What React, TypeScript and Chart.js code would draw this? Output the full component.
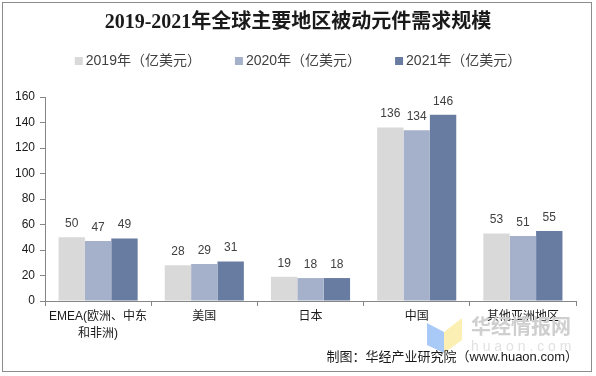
import React, { useEffect, useRef } from "react";
import { Chart, registerables } from "chart.js";

Chart.register(...registerables);

const chartTitle = "2019-2021年全球主要地区被动元件需求规模";
const footerText = "制图：华经产业研究院（www.huaon.com）";
const categories: (string | string[])[] = [["EMEA(欧洲、中东", "和非洲)"], "美国", "日本", "中国", "其他亚洲地区"];
const seriesNames = ["2019年（亿美元）", "2020年（亿美元）", "2021年（亿美元）"];
const values2019 = [50, 28, 19, 136, 53];
const values2020 = [47, 29, 18, 134, 51];
const values2021 = [49, 31, 18, 146, 55];
const yMin = 0;
const yMax = 160;
const yStep = 20;

const seriesColors = ["#D9D9D9", "#A5B1CA", "#687CA1"];
const SANS = '"Liberation Sans", "Noto Sans CJK SC", sans-serif';
const SERIF = '"Liberation Serif", "Noto Sans CJK SC", serif';

const decorPlugin = {
  id: "decor",
  afterDraw(chart: any) {
    const ctx: CanvasRenderingContext2D = chart.ctx;
    ctx.save();

    // outer border
    ctx.strokeStyle = "#8c8c8c";
    ctx.lineWidth = 1;
    ctx.strokeRect(2.5, 2.5, 589, 369);

    // title
    ctx.fillStyle = "#1a1a1a";
    ctx.font = `bold 20px ${SERIF}`;
    ctx.textAlign = "center";
    ctx.textBaseline = "middle";
    ctx.fillText(chartTitle, 298, 23);

    // legend
    ctx.font = `14px ${SANS}`;
    const box = 8;
    const gapBoxText = 3;
    const gapItems = 34;
    const widths = seriesNames.map((n) => box + gapBoxText + ctx.measureText(n).width);
    const total = widths.reduce((a, b) => a + b, 0) + gapItems * (seriesNames.length - 1);
    let x = 298 - total / 2;
    const ly = 61;
    seriesNames.forEach((n, i) => {
      ctx.fillStyle = seriesColors[i];
      ctx.fillRect(x, ly - box / 2, box, box);
      ctx.fillStyle = "#404040";
      ctx.textAlign = "left";
      ctx.fillText(n, x + box + gapBoxText, ly);
      x += widths[i] + gapItems;
    });

    // data labels
    ctx.font = `12px ${SANS}`;
    ctx.fillStyle = "#404040";
    ctx.textAlign = "center";
    chart.data.datasets.forEach((ds: any, i: number) => {
      const meta = chart.getDatasetMeta(i);
      meta.data.forEach((bar: any, j: number) => {
        ctx.fillText(String(ds.data[j]), bar.x, bar.y - 13.5);
      });
    });

    // watermark
    ctx.fillStyle = "#a9c9f7";
    ctx.beginPath();
    ctx.moveTo(427, 323);
    ctx.lineTo(444, 332);
    ctx.lineTo(444, 353);
    ctx.lineTo(427, 345);
    ctx.closePath();
    ctx.fill();
    ctx.fillStyle = "#fcefb4";
    ctx.beginPath();
    ctx.moveTo(444, 332);
    ctx.lineTo(462, 318);
    ctx.lineTo(462, 340);
    ctx.lineTo(444, 353);
    ctx.closePath();
    ctx.fill();
    ctx.fillStyle = "#cfcfcf";
    ctx.font = `bold 20px ${SANS}`;
    ctx.textAlign = "left";
    ctx.fillText("华经情报网", 471, 328);
    ctx.fillStyle = "#e2e2e2";
    ctx.font = `14px ${SANS}`;
    ctx.fillText("h u a o n . c o m", 471, 347);

    // footer
    ctx.fillStyle = "#1a1a1a";
    ctx.font = `13px ${SANS}`;
    ctx.textAlign = "right";
    ctx.fillText(footerText, 578, 357);

    ctx.restore();
  },
};

export default function App() {
  const ref = useRef<HTMLCanvasElement>(null);
  useEffect(() => {
    document.body.style.margin = "0";
    const datasets = [values2019, values2020, values2021].map((vals, i) => ({
      label: seriesNames[i],
      data: vals,
      backgroundColor: seriesColors[i],
      borderWidth: 0,
      categoryPercentage: 0.745,
      barPercentage: 1,
    }));
    const chart = new Chart(ref.current!, {
      type: "bar",
      data: { labels: categories as any, datasets },
      options: {
        animation: false,
        responsive: false,
        devicePixelRatio: 1,
        layout: { padding: { top: 97, right: 20, left: 0, bottom: 0 } },
        plugins: {
          legend: { display: false },
          title: { display: false },
          tooltip: { enabled: false },
        },
        scales: {
          x: {
            grid: {
              display: true,
              drawOnChartArea: false,
              drawTicks: true,
              tickLength: 5,
              color: "#868686",
              offset: true,
            },
            border: { display: true, color: "#868686" },
            ticks: {
              color: "#1a1a1a",
              font: { family: SANS, size: 12, lineHeight: 1.35 },
              padding: 3,
              maxRotation: 0,
              autoSkip: false,
            },
            afterFit: (s: any) => {
              s.height = 75;
            },
          },
          y: {
            min: yMin,
            max: yMax,
            ticks: {
              stepSize: yStep,
              color: "#1a1a1a",
              font: { family: SANS, size: 12 },
              padding: 5,
            },
            grid: {
              display: true,
              drawOnChartArea: false,
              drawTicks: true,
              tickLength: 5,
              color: "#868686",
            },
            border: { display: true, color: "#868686" },
            afterFit: (s: any) => {
              s.width = 45;
            },
          },
        },
      },
      plugins: [decorPlugin],
    });
    return () => chart.destroy();
  }, []);
  return (
    <div style={{ width: 596, height: 376, position: "relative" }}>
      <canvas ref={ref} width={596} height={376} style={{ display: "block" }} />
    </div>
  );
}
